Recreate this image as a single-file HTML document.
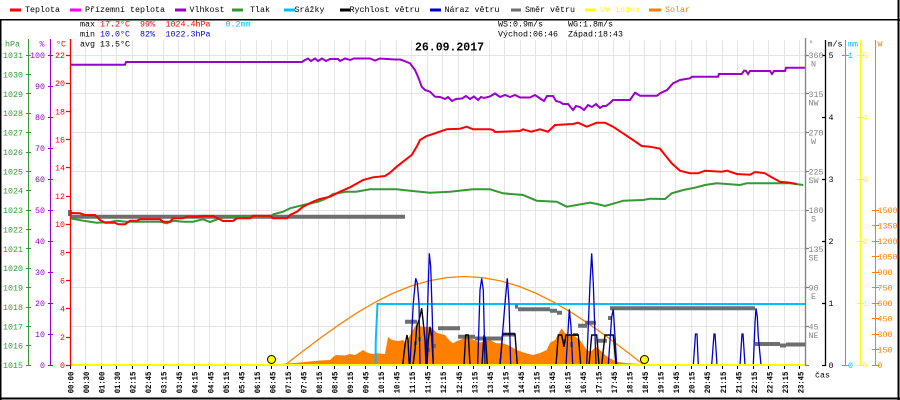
<!DOCTYPE html>
<html><head><meta charset="utf-8">
<style>
html,body{margin:0;padding:0;background:#fff}
svg{display:block}
text{font-family:"Liberation Mono","DejaVu Sans Mono",monospace;font-size:8.33px}
.b{font-weight:bold}
</style></head>
<body>
<svg width="900" height="400" viewBox="0 0 900 400" xmlns="http://www.w3.org/2000/svg">
<rect x="0" y="0" width="900" height="400" fill="#fff"/>

<!-- legend -->
<g>
<rect x="10" y="8.5" width="11" height="3" fill="#ff0000"/><text x="25" y="12">Teplota</text>
<rect x="70" y="8.5" width="11" height="3" fill="#ff00ff"/><text x="85" y="12">Přízemní teplota</text>
<rect x="175" y="8.5" width="11" height="3" fill="#9900cc"/><text x="189.5" y="12">Vlhkost</text>
<rect x="232" y="8.5" width="11" height="3" fill="#339933"/><text x="250" y="12">Tlak</text>
<rect x="284" y="8.5" width="11" height="3" fill="#00bfff"/><text x="294.5" y="12">Srážky</text>
<rect x="340" y="8.5" width="10" height="3" fill="#000"/><text x="349.5" y="12">Rychlost větru</text>
<rect x="430" y="8.5" width="11" height="3" fill="#0000cc"/><text x="444.5" y="12">Náraz větru</text>
<rect x="511" y="8.5" width="10" height="3" fill="#6e6e6e"/><text x="525" y="12">Směr větru</text>
<rect x="585" y="8.5" width="11" height="3" fill="#ffff00"/><text x="600" y="12" fill="#ffff00">UV index</text>
<rect x="649" y="8.5" width="12" height="3" fill="#ff8000"/><text x="665" y="12" fill="#ff8000">Solar</text>
</g>

<!-- frame -->
<rect x="0" y="19" width="900" height="1.5" fill="#000"/>
<rect x="0" y="19" width="1.5" height="381" fill="#000"/>
<rect x="0" y="397.5" width="900" height="2" fill="#000"/>
<rect x="897.5" y="0" width="2" height="400" fill="#000"/>

<!-- grid -->
<path stroke="#e6e3e3" stroke-width="1" fill="none" d="
M85.5,40V365 M101.5,40V365 M116.5,40V365 M132.5,40V365 M147.5,40V365 M163.5,40V365 M178.5,40V365 M194.5,40V365
M209.5,40V365 M225.5,40V365 M240.5,40V365 M256.5,40V365 M271.5,40V365 M287.5,40V365 M302.5,40V365 M318.5,40V365
M334.5,40V365 M349.5,40V365 M365.5,40V365 M380.5,40V365 M396.5,40V365 M411.5,40V365 M427.5,40V365 M442.5,40V365
M458.5,40V365 M473.5,40V365 M489.5,40V365 M504.5,40V365 M520.5,40V365 M535.5,40V365 M551.5,40V365 M566.5,40V365
M582.5,40V365 M598.5,40V365 M613.5,40V365 M629.5,40V365 M644.5,40V365 M660.5,40V365 M675.5,40V365 M691.5,40V365
M706.5,40V365 M722.5,40V365 M737.5,40V365 M753.5,40V365 M768.5,40V365 M784.5,40V365 M799.5,40V365
M70,55.5H806 M70,93.5H806 M70,132.5H806 M70,171.5H806 M70,210.5H806 M70,248.5H806 M70,287.5H806 M70,326.5H806"/>

<!-- stats -->
<text x="80" y="26.7">max</text>
<text x="100" y="26.7" fill="#ff0000">17.2°C</text>
<text x="140" y="26.7" fill="#ff0000">99%</text>
<text x="165.5" y="26.7" fill="#ff0000">1024.4hPa</text>
<text x="225.5" y="26.7" fill="#00bfff">0.2mm</text>
<text x="80" y="36.7">min</text>
<text x="100" y="36.7" fill="#0000cc">10.0°C</text>
<text x="140" y="36.7" fill="#0000cc">82%</text>
<text x="165.5" y="36.7" fill="#0000cc">1022.3hPa</text>
<text x="80" y="46.7">avg 13.5°C</text>
<text x="498" y="26.7">WS:0.9m/s</text>
<text x="568" y="26.7">WG:1.8m/s</text>
<text x="498" y="36.7">Východ:06:46</text>
<text x="568" y="36.7">Západ:18:43</text>
<text x="415" y="50.7" class="b" style="font-size:11.5px">26.09.2017</text>

<!-- solar fill -->
<polygon fill="#ff8000" points="277,365 280,364 290,363.3 300,362.5 310,361.5 320,360.5 330,360 333,357 336,355 345,355.5 350,354 355,355 360,352 363,350 366,352 370,353.5 375,354 377,353.3 385,354 388,337 392,340 398,341 403,340 406,343 410,335 413,330 417,323 420,326 424,327 427,326.7 432,328 437,333 445,335 450,341 453,343.3 457,341 460,340 466.7,336.7 470,338 476,341 480,342.5 486,341 490,340 496,343.3 503,343.3 510,346 516.7,350 525,353 533,355 540,353 546.7,350 550,342.7 555,340 561.7,328.3 565,333.3 573,335 580,340 586.7,350 590,351.7 596.7,346.7 600,350 605,355 610,358.3 616.7,361.7 625,363 640,364 643,365"/>
<!-- solar theoretical -->
<polyline fill="none" stroke="#ff8000" stroke-width="1.3" points="285,365 302.95,351.16 320.9,337.65 338.85,324.82 356.8,312.98 374.75,302.42 392.7,293.4 410.65,286.15 428.6,280.83 446.55,277.59 464.5,276.5 482.45,277.59 500.4,280.83 518.35,286.15 536.3,293.4 554.25,302.42 572.2,312.98 590.15,324.82 608.1,337.65 626.05,351.16 644,365"/>

<!-- rain -->
<path fill="none" stroke="#00bfff" stroke-width="2" d="M375.5,365 L375.8,340 L377.5,304 L806,304"/>

<!-- wind direction -->
<g stroke="#6e6e6e" stroke-width="4" fill="none">
<path d="M70,216.7H405"/>
<path d="M405,321.7H417 M438,328.3H460 M458,336.7H475 M475,338.5H503 M503,334.5H515 M515,306.5H518 M518,309.3H550 M550,310.7H557 M557,312.7H562 M578,325.7H587 M585,322.7H596 M597,340.7H607 M610,308.3H755 M755,344H780 M780,345.5H786 M786,344.5H805"/>
</g>
<g fill="#6e6e6e">
<rect x="414" y="341" width="3" height="4"/><rect x="418" y="337" width="3" height="4"/><rect x="427" y="348" width="3" height="4"/><rect x="433" y="344" width="3" height="4"/>
<rect x="563" y="339" width="3" height="4"/><rect x="570" y="342" width="3" height="5"/><rect x="573" y="333" width="5" height="3"/><rect x="608" y="316" width="4" height="4"/>
<rect x="68" y="210" width="4" height="6"/>
</g>

<!-- wind speed (black) -->
<g fill="none" stroke="#000" stroke-width="1.4">
<polyline points="402.7,365 405,345 407,335 408,340 409.3,365"/>
<polyline points="413,365 415,350 416.7,326.7 420,316.7 421.7,308.3 423.3,323 425,340 426,365"/>
<polyline points="427,365 428.3,340 430,326.7 431.7,336.7 433.3,365"/>
<polyline points="464,365 465.7,335 468.3,335 470,365"/>
<polyline points="482,365 484,335 485.7,340 487.3,365"/>
<polyline points="500,365 502.7,334 515,334 517.3,365"/>
<polyline points="556,365 558.3,335 561.7,335 564,346.7 566,335 578.3,335 580.7,365"/>
<polyline points="589,365 591.7,335 596.7,335 599,365"/>
<polyline points="601.7,365 605,335 613.3,335 616,365"/>
</g>
<!-- gusts (blue) -->
<g fill="none" stroke="#0000cc" stroke-width="1.3">
<polyline points="410,365 413.3,303.3 415.7,278.3 417.3,283.3 419,303.3 420,365"/>
<polyline points="426,365 428.3,283.3 429.3,253.3 430.7,266.7 432.3,316.7 433.3,365"/>
<polyline points="477.7,365 480,290 481.7,278.3 483.3,290 485,365"/>
<polyline points="500,365 505,303.3 507.3,278.3 509,303.3 510.7,365"/>
<polyline points="566,365 568.3,326.7 569.3,309.3 571,326.7 572.7,365"/>
<polyline points="586.7,365 590,283.3 591.7,253.3 593.3,283.3 596,365"/>
<polyline points="608.3,365 611.7,316.7 613.3,309.3 615,336.7 616.7,365"/>
<polyline points="693.3,365 695.5,334 697,334 698.3,365"/>
<polyline points="711.7,365 714,334 715,334 717,365"/>
<polyline points="740,365 742,334 743,334 745,365"/>
<polyline points="753.3,365 755,323.3 756,308.3 757.3,316.7 758.3,336.7 761,365"/>
</g>

<!-- pressure -->
<polyline fill="none" stroke="#339933" stroke-width="2" points="70,218.3 83,220.7 96.7,222.7 110,222 116.7,220.7 126,221.7 160,221.7 166.7,223.3 173.3,220.7 183,221.7 193,221.7 203,219.3 210,222 220,218.3 227,216.7 270,216.7 273.3,214.3 283.3,211.7 290,208.3 303.3,205 318.3,201.7 325,199 333.3,194 346.7,191.7 356,191.7 370,189.3 396.7,189.3 410,190.7 430,192.7 450,191.7 473,189.3 490,189.3 503,193.3 523,195 536.7,200.7 556.7,201.7 566.7,206.7 576.7,205 590,202.7 597,204 605,206 616.7,202.7 623.3,200.7 643.3,200 650,198.7 665,199 671.7,193.3 683.3,190 695,187.7 705,185 716.7,183.3 740,185 746.7,183.3 790,183.3 803.3,185"/>
<!-- temperature -->
<polyline fill="none" stroke="#ff0000" stroke-width="2" points="70,213 80,213.3 85,215 95,215 100,220 105,222.7 115,222.7 118,224.3 125,224.3 130,220.7 137,220.7 140,219.3 160,219.3 163,221.7 170,221.7 173,218.3 183,218.3 187,216.7 197,216.7 203,216 213,216 223,221 233,221 237,218.3 250,218.3 253,215.7 270,215.7 273,218.3 287,218.3 290,215 297,211.7 303,206.7 313,201.7 320,199 330,196.7 340,191.7 350,187.3 363,180 373,177.3 385,176 390,172.7 396.7,166.7 403,161.7 411.7,155 416.7,146.7 420,140 426.7,136 435,133.3 446.7,129.3 460,128.7 466.7,126.7 473,129.3 490,129.3 493,130 495,132 520,131 523,129.3 531,131.7 540,129.3 548,131.7 555,125 573,124 578,122.7 586.7,126.7 596.7,122.7 605,122.7 613,126.7 623,133.3 633,140 641.7,146 650,146.7 660,148.7 665,155 671.7,163.3 680,170.7 690,173.3 698,173.3 705,170.7 721.7,171.7 727,170.7 736.7,174 750,174.7 755,172 765,173.3 771.7,177.3 780,181.7 790,182.7 796.7,184"/>
<!-- humidity -->
<polyline fill="none" stroke="#9900cc" stroke-width="2" points="70,64.7 125,64.7 126,62 302,62 305,60 308,58.5 311,61 315,58.5 318,61 322,58.5 326,61 330,59 338,59 340,61 345,58.5 350,60 354,58.5 370,58.5 375,60.5 380,58.5 395,59.5 400,59.5 403,60.5 406.7,62 410,63.3 415,70 418,76.7 421.7,86.7 425,90 430,91.7 435,96.7 440,97 445,99 448,97 452,101 456,99 462,98.5 466,96 470,99 474,96.5 478,100 481,97 484,98 490,96.5 495,93.5 500,97 505,95 510,97 515,95 520,97.5 530,97.5 535,95 540,98.5 544,101 547,96 553,96 556,101 560,102 563,104 568,104 573,110 576,106 580,107 584,110 588,105 592,107 596,104 600,108 603,106 606,106 610,103 613,100 630,100 635,92.7 640,95.7 657,95.7 660,93.3 667,90 673,83.3 680,80 690,78.3 692,76.7 718,76.7 719,74 741.7,74 744,70.7 746,70.7 748,74 750,71 770,71 772,74 774,71 785,71 786,67.7 806,67.7"/>

<!-- UV baseline -->
<rect x="70" y="364" width="736" height="2" fill="#ffff00"/>
<!-- sunrise/sunset -->
<circle cx="271.5" cy="359.5" r="4" fill="#ffff00" stroke="#000" stroke-width="1"/>
<circle cx="644.5" cy="359.5" r="4" fill="#ffff00" stroke="#000" stroke-width="1"/>

<!-- bottom ticks -->
<path stroke="#000" stroke-width="1" d="M70.5,366v3 M85.5,366v3 M101.5,366v3 M116.5,366v3 M132.5,366v3 M147.5,366v3 M163.5,366v3 M178.5,366v3 M194.5,366v3 M209.5,366v3 M225.5,366v3 M240.5,366v3 M256.5,366v3 M271.5,366v3 M287.5,366v3 M302.5,366v3 M318.5,366v3 M334.5,366v3 M349.5,366v3 M365.5,366v3 M380.5,366v3 M396.5,366v3 M411.5,366v3 M427.5,366v3 M442.5,366v3 M458.5,366v3 M473.5,366v3 M489.5,366v3 M504.5,366v3 M520.5,366v3 M535.5,366v3 M551.5,366v3 M566.5,366v3 M582.5,366v3 M598.5,366v3 M613.5,366v3 M629.5,366v3 M644.5,366v3 M660.5,366v3 M675.5,366v3 M691.5,366v3 M706.5,366v3 M722.5,366v3 M737.5,366v3 M753.5,366v3 M768.5,366v3 M784.5,366v3 M799.5,366v3"/>

<!-- left axes -->
<path stroke="#339933" stroke-width="1" d="M28.5,39V366 M26,55.5h5 M26,74.5h5 M26,93.5h5 M26,113.5h5 M26,132.5h5 M26,152.5h5 M26,171.5h5 M26,190.5h5 M26,210.5h5 M26,229.5h5 M26,248.5h5 M26,268.5h5 M26,287.5h5 M26,307.5h5 M26,326.5h5 M26,345.5h5 M26,365.5h5"/>
<path stroke="#9900cc" stroke-width="1" d="M50.5,39V366 M48,55.5h5 M48,86.5h5 M48,117.5h5 M48,148.5h5 M48,179.5h5 M48,210.5h5 M48,241.5h5 M48,272.5h5 M48,303.5h5 M48,334.5h5 M48,365.5h5"/>
<path stroke="#ff0000" stroke-width="1.3" d="M70.5,39V366 M66,55.5h4 M66,83.5h4 M66,111.5h4 M66,139.5h4 M66,167.5h4 M66,196.5h4 M66,224.5h4 M66,252.5h4 M66,280.5h4 M66,308.5h4 M66,337.5h4 M66,365.5h4"/>

<g fill="#339933" text-anchor="end">
<text x="5" y="46.7" text-anchor="start">hPa</text>
<text x="23" y="58">1031</text><text x="23" y="77.4">1030</text><text x="23" y="96.8">1029</text><text x="23" y="116.1">1028</text><text x="23" y="135.5">1027</text><text x="23" y="154.9">1026</text><text x="23" y="174.3">1025</text><text x="23" y="193.6">1024</text><text x="23" y="213">1023</text><text x="23" y="232.4">1022</text><text x="23" y="251.8">1021</text><text x="23" y="271.1">1020</text><text x="23" y="290.5">1019</text><text x="23" y="309.9">1018</text><text x="23" y="329.3">1017</text><text x="23" y="348.6">1016</text><text x="23" y="368">1015</text>
</g>
<g fill="#9900cc" text-anchor="end">
<text x="44.5" y="46.7">%</text>
<text x="45" y="58">100</text><text x="45" y="89">90</text><text x="45" y="120">80</text><text x="45" y="151">70</text><text x="45" y="182">60</text><text x="45" y="213">50</text><text x="45" y="244">40</text><text x="45" y="275">30</text><text x="45" y="306">20</text><text x="45" y="337">10</text><text x="45" y="368">0</text>
</g>
<g fill="#ff0000" text-anchor="end">
<text x="66" y="46.7">°C</text>
<text x="65" y="58">22</text><text x="65" y="86.2">20</text><text x="65" y="114.4">18</text><text x="65" y="142.5">16</text><text x="65" y="170.7">14</text><text x="65" y="198.9">12</text><text x="65" y="227.1">10</text><text x="65" y="255.3">8</text><text x="65" y="283.5">6</text><text x="65" y="311.6">4</text><text x="65" y="339.8">2</text><text x="65" y="368">0</text>
</g>

<!-- right axes -->
<path stroke="#808080" stroke-width="1.3" d="M805.5,38V366 M806,55.5h3 M806,93.5h3 M806,132.5h3 M806,171.5h3 M806,210.5h3 M806,248.5h3 M806,287.5h3 M806,326.5h3 M806,365.5h3"/>
<path stroke="#000" stroke-width="1.3" d="M825.5,40V366 M822,55.5h4 M822,117.5h4 M822,179.5h4 M822,241.5h4 M822,303.5h4 M822,365.5h4"/>
<path stroke="#00bfff" stroke-width="1" d="M845.5,40V366 M842,55.5h7 M842,365.5h7"/>
<path stroke="#ffff00" stroke-width="1" d="M860.5,40V366 M857,55.5h7 M857,117.5h7 M857,179.5h7 M857,241.5h7 M857,303.5h7 M857,365.5h7"/>
<path stroke="#ff8000" stroke-width="1" d="M875.5,40V366 M872,210.5h7 M872,225.5h7 M872,241.5h7 M872,256.5h7 M872,272.5h7 M872,287.5h7 M872,303.5h7 M872,318.5h7 M872,334.5h7 M872,349.5h7 M872,365.5h7"/>

<g fill="#808080">
<text x="808.5" y="46">°</text>
<text x="808.5" y="58">360</text><text x="813.5" y="66.5" text-anchor="middle">N</text>
<text x="808.5" y="96.8">315</text><text x="813.5" y="105.3" text-anchor="middle">NW</text>
<text x="808.5" y="135.5">270</text><text x="813.5" y="144" text-anchor="middle">W</text>
<text x="808.5" y="174.3">225</text><text x="813.5" y="182.8" text-anchor="middle">SW</text>
<text x="808.5" y="213">180</text><text x="813.5" y="221.5" text-anchor="middle">S</text>
<text x="808.5" y="251.8">135</text><text x="813.5" y="260.3" text-anchor="middle">SE</text>
<text x="808.5" y="290.5">90</text><text x="813.5" y="299" text-anchor="middle">E</text>
<text x="808.5" y="329.3">45</text><text x="813.5" y="337.8" text-anchor="middle">NE</text>
</g>
<g fill="#000">
<text x="827.5" y="46.7">m/s</text>
<text x="828.5" y="58">5</text><text x="828.5" y="120">4</text><text x="828.5" y="182">3</text><text x="828.5" y="244">2</text><text x="828.5" y="306">1</text><text x="828.5" y="368">0</text>
<text x="815" y="377.5">čas</text>
</g>
<g fill="#00bfff">
<text x="848" y="46.7">mm</text>
<text x="848" y="58">1</text><text x="848" y="368">0</text>
</g>
<g fill="#ffff00">
<text x="862.5" y="58">5</text><text x="862.5" y="120">4</text><text x="862.5" y="182">3</text><text x="862.5" y="244">2</text><text x="862.5" y="306">1</text><text x="862.5" y="368">0</text>
</g>
<g fill="#ff8000">
<text x="877.5" y="46.7">W</text>
<text x="877.5" y="213">1500</text><text x="877.5" y="228.5">1350</text><text x="877.5" y="244">1200</text><text x="877.5" y="259.5">1050</text><text x="877.5" y="275">900</text><text x="877.5" y="290.5">750</text><text x="877.5" y="306">600</text><text x="877.5" y="321.5">450</text><text x="877.5" y="337">300</text><text x="877.5" y="352.5">150</text><text x="877.5" y="368">0</text>
</g>

<!-- time labels -->
<g class="b" fill="#000" style="font-size:8.5px">
<text transform="translate(73.5,393.3) rotate(-90)" textLength="21.6" lengthAdjust="spacingAndGlyphs">00:00</text>
<text transform="translate(89,393.3) rotate(-90)" textLength="21.6" lengthAdjust="spacingAndGlyphs">00:30</text>
<text transform="translate(104.6,393.3) rotate(-90)" textLength="21.6" lengthAdjust="spacingAndGlyphs">01:00</text>
<text transform="translate(120.1,393.3) rotate(-90)" textLength="21.6" lengthAdjust="spacingAndGlyphs">01:30</text>
<text transform="translate(135.6,393.3) rotate(-90)" textLength="21.6" lengthAdjust="spacingAndGlyphs">02:15</text>
<text transform="translate(151.2,393.3) rotate(-90)" textLength="21.6" lengthAdjust="spacingAndGlyphs">02:45</text>
<text transform="translate(166.7,393.3) rotate(-90)" textLength="21.6" lengthAdjust="spacingAndGlyphs">03:15</text>
<text transform="translate(182.2,393.3) rotate(-90)" textLength="21.6" lengthAdjust="spacingAndGlyphs">03:45</text>
<text transform="translate(197.7,393.3) rotate(-90)" textLength="21.6" lengthAdjust="spacingAndGlyphs">04:15</text>
<text transform="translate(213.3,393.3) rotate(-90)" textLength="21.6" lengthAdjust="spacingAndGlyphs">04:45</text>
<text transform="translate(228.8,393.3) rotate(-90)" textLength="21.6" lengthAdjust="spacingAndGlyphs">05:15</text>
<text transform="translate(244.3,393.3) rotate(-90)" textLength="21.6" lengthAdjust="spacingAndGlyphs">05:45</text>
<text transform="translate(259.9,393.3) rotate(-90)" textLength="21.6" lengthAdjust="spacingAndGlyphs">06:15</text>
<text transform="translate(275.4,393.3) rotate(-90)" textLength="21.6" lengthAdjust="spacingAndGlyphs">06:45</text>
<text transform="translate(290.9,393.3) rotate(-90)" textLength="21.6" lengthAdjust="spacingAndGlyphs">07:15</text>
<text transform="translate(306.5,393.3) rotate(-90)" textLength="21.6" lengthAdjust="spacingAndGlyphs">07:45</text>
<text transform="translate(322,393.3) rotate(-90)" textLength="21.6" lengthAdjust="spacingAndGlyphs">08:15</text>
<text transform="translate(337.5,393.3) rotate(-90)" textLength="21.6" lengthAdjust="spacingAndGlyphs">08:45</text>
<text transform="translate(353,393.3) rotate(-90)" textLength="21.6" lengthAdjust="spacingAndGlyphs">09:15</text>
<text transform="translate(368.6,393.3) rotate(-90)" textLength="21.6" lengthAdjust="spacingAndGlyphs">09:45</text>
<text transform="translate(384.1,393.3) rotate(-90)" textLength="21.6" lengthAdjust="spacingAndGlyphs">10:15</text>
<text transform="translate(399.6,393.3) rotate(-90)" textLength="21.6" lengthAdjust="spacingAndGlyphs">10:45</text>
<text transform="translate(415.2,393.3) rotate(-90)" textLength="21.6" lengthAdjust="spacingAndGlyphs">11:15</text>
<text transform="translate(430.7,393.3) rotate(-90)" textLength="21.6" lengthAdjust="spacingAndGlyphs">11:45</text>
<text transform="translate(446.2,393.3) rotate(-90)" textLength="21.6" lengthAdjust="spacingAndGlyphs">12:15</text>
<text transform="translate(461.8,393.3) rotate(-90)" textLength="21.6" lengthAdjust="spacingAndGlyphs">12:45</text>
<text transform="translate(477.3,393.3) rotate(-90)" textLength="21.6" lengthAdjust="spacingAndGlyphs">13:15</text>
<text transform="translate(492.8,393.3) rotate(-90)" textLength="21.6" lengthAdjust="spacingAndGlyphs">13:45</text>
<text transform="translate(508.3,393.3) rotate(-90)" textLength="21.6" lengthAdjust="spacingAndGlyphs">14:15</text>
<text transform="translate(523.9,393.3) rotate(-90)" textLength="21.6" lengthAdjust="spacingAndGlyphs">14:45</text>
<text transform="translate(539.4,393.3) rotate(-90)" textLength="21.6" lengthAdjust="spacingAndGlyphs">15:15</text>
<text transform="translate(554.9,393.3) rotate(-90)" textLength="21.6" lengthAdjust="spacingAndGlyphs">15:45</text>
<text transform="translate(570.5,393.3) rotate(-90)" textLength="21.6" lengthAdjust="spacingAndGlyphs">16:15</text>
<text transform="translate(586,393.3) rotate(-90)" textLength="21.6" lengthAdjust="spacingAndGlyphs">16:45</text>
<text transform="translate(601.5,393.3) rotate(-90)" textLength="21.6" lengthAdjust="spacingAndGlyphs">17:15</text>
<text transform="translate(617.1,393.3) rotate(-90)" textLength="21.6" lengthAdjust="spacingAndGlyphs">17:45</text>
<text transform="translate(632.6,393.3) rotate(-90)" textLength="21.6" lengthAdjust="spacingAndGlyphs">18:15</text>
<text transform="translate(648.1,393.3) rotate(-90)" textLength="21.6" lengthAdjust="spacingAndGlyphs">18:45</text>
<text transform="translate(663.6,393.3) rotate(-90)" textLength="21.6" lengthAdjust="spacingAndGlyphs">19:15</text>
<text transform="translate(679.2,393.3) rotate(-90)" textLength="21.6" lengthAdjust="spacingAndGlyphs">19:45</text>
<text transform="translate(694.7,393.3) rotate(-90)" textLength="21.6" lengthAdjust="spacingAndGlyphs">20:15</text>
<text transform="translate(710.2,393.3) rotate(-90)" textLength="21.6" lengthAdjust="spacingAndGlyphs">20:45</text>
<text transform="translate(725.8,393.3) rotate(-90)" textLength="21.6" lengthAdjust="spacingAndGlyphs">21:15</text>
<text transform="translate(741.3,393.3) rotate(-90)" textLength="21.6" lengthAdjust="spacingAndGlyphs">21:45</text>
<text transform="translate(756.8,393.3) rotate(-90)" textLength="21.6" lengthAdjust="spacingAndGlyphs">22:15</text>
<text transform="translate(772.4,393.3) rotate(-90)" textLength="21.6" lengthAdjust="spacingAndGlyphs">22:45</text>
<text transform="translate(787.9,393.3) rotate(-90)" textLength="21.6" lengthAdjust="spacingAndGlyphs">23:15</text>
<text transform="translate(803.4,393.3) rotate(-90)" textLength="21.6" lengthAdjust="spacingAndGlyphs">23:45</text>
</g>
</svg>
</body></html>
